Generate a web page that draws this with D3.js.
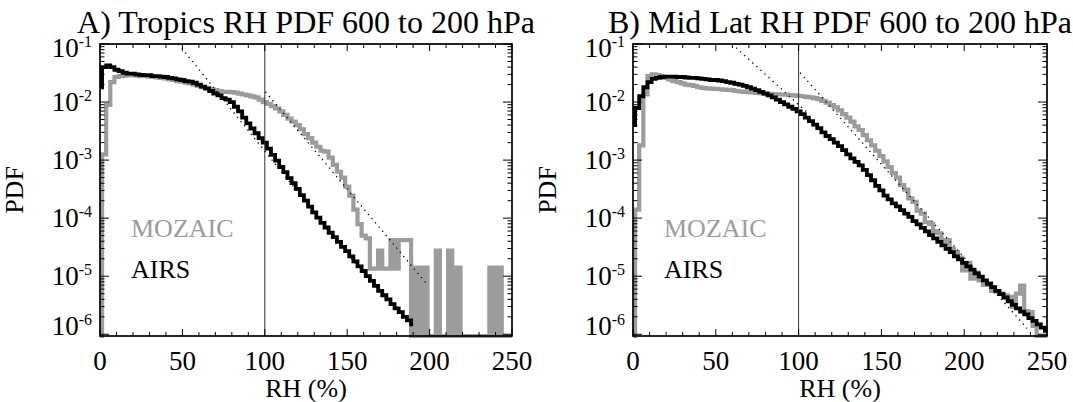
<!DOCTYPE html>
<html>
<head>
<meta charset="utf-8">
<script src="https://cdn.jsdelivr.net/npm/d3@7"></script>
<style>
  body { margin: 0; background: #fff; }
</style>
</head>
<body>
<div id="chart"></div>
<script>
// RH bins are 2.5 % wide, centred on 0, 2.5, ... 250
var binWidth = 2.5;
var xTicks = [0, 50, 100, 150, 200, 250];
var yTickExps = [-1, -2, -3, -4, -5, -6];

var tropicsAirs = [
  1.8e-2, 4.0e-2, 4.3e-2, 4.0e-2, 3.6e-2, 3.4e-2, 3.2e-2, 3.1e-2, 3.1e-2, 3.0e-2,
  2.95e-2, 2.9e-2, 2.9e-2, 2.8e-2, 2.8e-2, 2.75e-2, 2.7e-2, 2.6e-2, 2.55e-2, 2.45e-2,
  2.4e-2, 2.3e-2, 2.25e-2, 2.15e-2, 2.0e-2, 1.85e-2, 1.7e-2, 1.55e-2, 1.4e-2, 1.3e-2,
  1.17e-2, 1.1e-2, 1.0e-2, 8.3e-3, 6.9e-3, 5.4e-3, 4.3e-3, 3.5e-3, 2.9e-3, 2.4e-3,
  2.0e-3, 1.58e-3, 1.23e-3, 9.8e-4, 7.6e-4, 6.2e-4, 4.9e-4, 4.0e-4, 3.2e-4, 2.5e-4,
  2.0e-4, 1.58e-4, 1.26e-4, 1.02e-4, 8.3e-5, 6.9e-5, 5.6e-5, 4.7e-5, 3.9e-5, 3.2e-5,
  2.7e-5, 2.2e-5, 1.8e-5, 1.48e-5, 1.23e-5, 1.0e-5, 8.3e-6, 6.8e-6, 5.6e-6, 4.7e-6,
  4.0e-6, 3.3e-6, 2.8e-6, 2.4e-6, 2.0e-6, 1.74e-6, 1.48e-6, null, null, null,
  null, null, null, null, null, null, null, null, null, null,
  null, null, null, null, null, null, null, null, null, null,
  null
];
var tropicsMozaic = [
  0, 1.26e-3, 8.9e-3, 2.2e-2, 2.7e-2, 2.8e-2, 2.85e-2, 2.9e-2, 2.9e-2, 2.85e-2,
  2.8e-2, 2.8e-2, 2.75e-2, 2.7e-2, 2.65e-2, 2.6e-2, 2.55e-2, 2.45e-2, 2.4e-2, 2.3e-2,
  2.25e-2, 2.15e-2, 2.1e-2, 2.0e-2, 1.9e-2, 1.8e-2, 1.75e-2, 1.65e-2, 1.6e-2, 1.55e-2,
  1.5e-2, 1.5e-2, 1.48e-2, 1.45e-2, 1.4e-2, 1.35e-2, 1.3e-2, 1.25e-2, 1.2e-2, 1.1e-2,
  1.0e-2, 9.3e-3, 8.5e-3, 7.8e-3, 6.9e-3, 6.0e-3, 5.2e-3, 4.6e-3, 4.0e-3, 3.4e-3,
  2.8e-3, 2.4e-3, 2.0e-3, 1.7e-3, 1.45e-3, 1.4e-3, 1.1e-3, 8.3e-4, 6.3e-4, 5.0e-4,
  3.5e-4, 2.45e-4, 1.4e-4, 7.9e-5, 5.0e-5, 4.5e-5, 1.35e-5, 1.35e-5, 2.75e-5, 1.35e-5,
  1.35e-5, 4.2e-5, 1.35e-5, 4.2e-5, 4.2e-5, 4.2e-5, 0, 1.4e-5, 0, 1.4e-5,
  0, 0, 2.75e-5, 0, 0, 2.75e-5, 0, 1.4e-5, 0, 0,
  0, 0, 0, 0, 0, 1.4e-5, 0, 1.4e-5, 0, 0,
  0
];
var midlatAirs = [
  4.0e-3, 7.9e-3, 1.26e-2, 1.8e-2, 2.2e-2, 2.5e-2, 2.6e-2, 2.7e-2, 2.75e-2, 2.75e-2,
  2.75e-2, 2.7e-2, 2.7e-2, 2.65e-2, 2.6e-2, 2.6e-2, 2.55e-2, 2.5e-2, 2.45e-2, 2.4e-2,
  2.4e-2, 2.35e-2, 2.3e-2, 2.2e-2, 2.15e-2, 2.05e-2, 2.0e-2, 1.9e-2, 1.8e-2, 1.7e-2,
  1.6e-2, 1.5e-2, 1.4e-2, 1.3e-2, 1.2e-2, 1.1e-2, 1.0e-2, 9.1e-3, 8.3e-3, 7.6e-3,
  6.9e-3, 6.2e-3, 5.4e-3, 4.7e-3, 4.1e-3, 3.55e-3, 3.0e-3, 2.6e-3, 2.3e-3, 2.0e-3,
  1.74e-3, 1.48e-3, 1.26e-3, 1.07e-3, 9.3e-4, 8.1e-4, 6.8e-4, 5.5e-4, 4.5e-4, 3.6e-4,
  3.0e-4, 2.45e-4, 2.1e-4, 1.8e-4, 1.6e-4, 1.38e-4, 1.2e-4, 1.05e-4, 8.9e-5, 7.8e-5,
  6.8e-5, 5.9e-5, 5.1e-5, 4.5e-5, 3.9e-5, 3.4e-5, 2.95e-5, 2.6e-5, 2.2e-5, 1.95e-5,
  1.7e-5, 1.48e-5, 1.3e-5, 1.12e-5, 9.8e-6, 8.5e-6, 7.4e-6, 6.5e-6, 5.6e-6, 4.9e-6,
  4.3e-6, 3.7e-6, 3.2e-6, 2.8e-6, 2.45e-6, 2.2e-6, 1.9e-6, 1.7e-6, 1.48e-6, 1.3e-6,
  1.15e-6
];
var midlatMozaic = [
  0, 1.4e-4, 1.8e-3, 1.35e-2, 2.8e-2, 3.0e-2, 2.9e-2, 2.75e-2, 2.6e-2, 2.45e-2,
  2.3e-2, 2.2e-2, 2.1e-2, 2.0e-2, 1.95e-2, 1.9e-2, 1.8e-2, 1.75e-2, 1.72e-2, 1.7e-2,
  1.68e-2, 1.66e-2, 1.64e-2, 1.62e-2, 1.6e-2, 1.55e-2, 1.52e-2, 1.5e-2, 1.48e-2, 1.46e-2,
  1.44e-2, 1.42e-2, 1.4e-2, 1.38e-2, 1.37e-2, 1.36e-2, 1.35e-2, 1.34e-2, 1.32e-2, 1.3e-2,
  1.28e-2, 1.26e-2, 1.23e-2, 1.2e-2, 1.17e-2, 1.12e-2, 1.05e-2, 9.8e-3, 8.9e-3, 8.1e-3,
  7.2e-3, 6.2e-3, 5.4e-3, 4.6e-3, 3.8e-3, 3.3e-3, 2.7e-3, 2.2e-3, 1.8e-3, 1.45e-3,
  1.17e-3, 9.5e-4, 7.6e-4, 6.0e-4, 5.0e-4, 3.7e-4, 3.1e-4, 2.2e-4, 1.9e-4, 1.35e-4,
  1.2e-4, 8.5e-5, 7.9e-5, 5.9e-5, 5.5e-5, 4.0e-5, 4.2e-5, 3.0e-5, 2.6e-5, 2.1e-5,
  1.26e-5, 1.7e-5, 9.1e-6, 1.15e-5, 8.5e-6, 7.1e-6, 7.6e-6, 5.6e-6, 5.4e-6, 5.0e-6,
  4.7e-6, 4.4e-6, 3.0e-6, 5.0e-6, 6.9e-6, 2.5e-6, 2.4e-6, 1.4e-6, 0, 0,
  0
];

// dotted exponential fits: [[rh, pdf], [rh, pdf]]
var tropicsFits = [[[47.6, 1e-1], [160, 1.1e-5]], [[100.4, 1.5e-2], [198.6, 7.2e-6]]];
var midlatFits = [[[59.8, 1e-1], [106, 6.3e-3]], [[100.9, 3.2e-2], [238, 1.26e-6]]];

var W = 1073, H = 402;
var plotTop = 44, plotBottom = 336;
var grey = "#9c9c9c";

var svg = d3.select("#chart").append("svg")
  .attr("width", W).attr("height", H)
  .attr("font-family", "'Liberation Serif', 'DejaVu Serif', 'Times New Roman', serif")
  .style("background", "#fff");

function drawPanel(x0, x1, title, airs, mozaic, fits) {
  var x = d3.scaleLinear().domain([0, 250]).range([x0, x1]);
  var y = d3.scaleLog().domain([Math.pow(10, -6.03), 1e-1]).range([plotBottom, plotTop]);
  var g = svg.append("g");
  var ymin = y.domain()[0];

  var line = d3.line()
    .defined(function(d) { return d != null; })
    .x(function(d, i) { return x(i * binWidth); })
    .y(function(d) { return y(Math.max(d, ymin)); })
    .curve(d3.curveStep);

  // histograms
  g.append("path").datum(mozaic)
    .attr("fill", "none").attr("stroke", grey).attr("stroke-width", 4.2)
    .attr("d", line);
  g.append("path").datum(airs)
    .attr("fill", "none").attr("stroke", "#000").attr("stroke-width", 3.8)
    .attr("d", line);

  // RH = 100 line
  g.append("line")
    .attr("x1", x(100)).attr("x2", x(100)).attr("y1", plotTop).attr("y2", plotBottom)
    .attr("stroke", "#333").attr("stroke-width", 1);

  // fits
  fits.forEach(function(f) {
    g.append("line")
      .attr("x1", x(f[0][0])).attr("y1", y(f[0][1]))
      .attr("x2", x(f[1][0])).attr("y2", y(f[1][1]))
      .attr("stroke", "#000").attr("stroke-width", 1.3)
      .attr("stroke-dasharray", "1.3,4.2");
  });

  // frame
  g.append("rect")
    .attr("x", x0).attr("y", plotTop).attr("width", x1 - x0).attr("height", plotBottom - plotTop)
    .attr("fill", "none").attr("stroke", "#000").attr("stroke-width", 1.7);

  // x ticks, bottom and top, pointing in
  var xMinor = d3.range(0, 251, 10).filter(function(v) { return v % 50 != 0; });
  xTicks.concat(xMinor).forEach(function(v) {
    var len = xTicks.indexOf(v) >= 0 ? 7 : 4;
    g.append("line").attr("x1", x(v)).attr("x2", x(v))
      .attr("y1", plotBottom).attr("y2", plotBottom - len).attr("stroke", "#000");
    g.append("line").attr("x1", x(v)).attr("x2", x(v))
      .attr("y1", plotTop).attr("y2", plotTop + len).attr("stroke", "#000");
  });
  g.selectAll(".xlab").data(xTicks).enter().append("text")
    .attr("x", function(d) { return x(d); })
    .attr("y", 370)
    .attr("text-anchor", "middle")
    .attr("font-size", 27)
    .text(function(d) { return d; });

  // y ticks, left and right
  yTickExps.forEach(function(e) {
    var v = Math.pow(10, e);
    [[x0, 1], [x1, -1]].forEach(function(s) {
      g.append("line").attr("x1", s[0]).attr("x2", s[0] + s[1] * 9)
        .attr("y1", y(v)).attr("y2", y(v)).attr("stroke", "#000");
      if (e < -1) {
        for (var k = 2; k <= 9; k++) {
          var yy = y(k * Math.pow(10, e));
          g.append("line").attr("x1", s[0]).attr("x2", s[0] + s[1] * 4.5)
            .attr("y1", yy).attr("y2", yy).attr("stroke", "#000");
        }
      }
    });
    var base = Math.min(Math.max(y(v) + 9, plotTop + 13), plotBottom - 1);
    var t = g.append("text")
      .attr("x", x0 - 8).attr("y", base)
      .attr("text-anchor", "end")
      .attr("font-size", 27);
    t.append("tspan").text("10");
    t.append("tspan").attr("font-size", 16).attr("dy", -10).text(String(e));
  });

  // axis titles
  g.append("text")
    .attr("x", (x0 + x1) / 2).attr("y", 397)
    .attr("text-anchor", "middle").attr("font-size", 26)
    .text("RH (%)");
  g.append("text")
    .attr("transform", "translate(" + (x0 - 77) + "," + ((plotTop + plotBottom) / 2) + ") rotate(-90)")
    .attr("text-anchor", "middle").attr("font-size", 26)
    .text("PDF");
  g.append("text")
    .attr("x", (x0 + x1) / 2).attr("y", 33)
    .attr("text-anchor", "middle").attr("font-size", 32)
    .text(title);

  // legend
  g.append("text").attr("x", x0 + 31).attr("y", 237)
    .attr("font-size", 26).attr("fill", grey).text("MOZAIC");
  g.append("text").attr("x", x0 + 31).attr("y", 278)
    .attr("font-size", 26).attr("fill", "#000").text("AIRS");
}

drawPanel(100, 512, "A) Tropics RH PDF 600 to 200 hPa", tropicsAirs, tropicsMozaic, tropicsFits);
drawPanel(633, 1047, "B) Mid Lat RH PDF 600 to 200 hPa", midlatAirs, midlatMozaic, midlatFits);
</script>
</body>
</html>
